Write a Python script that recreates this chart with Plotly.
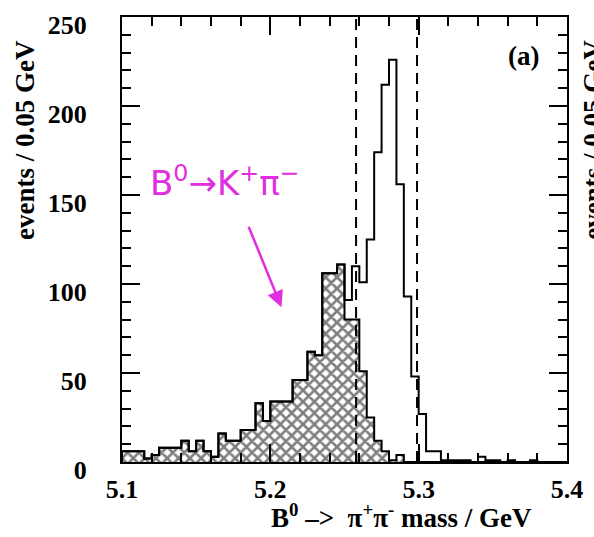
import plotly.graph_objects as go

# ---- data ----
bin_start = 5.1
bin_width = 0.005
# B0 -> K+ pi- (hatched) counts per bin, 5.100 ... 5.400
kpi_counts = [6, 6, 6, 2, 4, 8, 8, 8, 12, 6,
              12, 6, 3, 16, 12, 12, 18, 18, 33, 23,
              34, 34, 34, 46, 46, 62, 60, 106, 106, 111,
              80, 80, 51, 25, 12, 6, 1, 4, 0, 0,
              0, 0, 0, 0, 0, 0, 0, 0, 0, 0,
              0, 0, 0, 0, 0, 0, 0, 0, 0, 0]
# all candidates (open histogram)
all_counts = [6, 6, 6, 2, 4, 8, 8, 8, 12, 6,
              12, 6, 3, 16, 12, 12, 18, 18, 33, 23,
              34, 34, 34, 46, 46, 62, 60, 106, 106, 111,
              91, 110, 101, 125, 174, 212, 226, 156, 93, 48,
              27, 6, 6, 1, 1, 1, 1, 0, 3, 1,
              1, 0, 1, 0, 0, 1, 0, 0, 0, 0]
window_edges = [5.2578, 5.2989]
x_ticks = [5.1, 5.2, 5.3, 5.4]
y_ticks = [0, 50, 100, 150, 200, 250]

n = len(all_counts)
edges = [bin_start + bin_width * i for i in range(n + 1)]
centers = [bin_start + bin_width * (i + 0.5) for i in range(n)]

serif = "Liberation Serif"
fig = go.Figure()

fig.add_trace(go.Bar(
    x=centers, y=kpi_counts, width=bin_width,
    marker=dict(color="white", line=dict(width=0),
                pattern=dict(shape="x", fgcolor="black", bgcolor="white",
                             size=8, solidity=0.55)),
    showlegend=False, hoverinfo="skip"))

fig.add_trace(go.Scatter(
    x=[edges[0]] + edges, y=[0] + kpi_counts + [kpi_counts[-1]],
    mode="lines", line=dict(color="black", width=2, shape="hv"),
    showlegend=False, hoverinfo="skip"))

fig.add_trace(go.Scatter(
    x=[edges[0]] + edges, y=[0] + all_counts + [all_counts[-1]],
    mode="lines", line=dict(color="black", width=2, shape="hv"),
    showlegend=False, hoverinfo="skip"))

for xv in window_edges:
    fig.add_shape(type="line", x0=xv, x1=xv, y0=0, y1=1, xref="x", yref="paper",
                  line=dict(color="black", width=2, dash="11px,7px"))

axis_common = dict(showline=True, linecolor="black", linewidth=2, mirror="ticks",
                   ticks="inside", tickcolor="black", tickwidth=2, ticklen=18,
                   showgrid=False, zeroline=False,
                   tickfont=dict(family=serif, size=26, color="black", weight="bold"))

fig.update_xaxes(range=[5.1, 5.4], tickvals=x_ticks,
                 ticktext=[f"{v:.1f}" for v in x_ticks],
                 minor=dict(dtick=0.02, tick0=5.1, ticks="inside", ticklen=9,
                            tickwidth=2, tickcolor="black", showgrid=False),
                 ticklabelstandoff=3, **axis_common)
fig.update_yaxes(range=[0, 250], tickvals=y_ticks,
                 minor=dict(dtick=10, tick0=0, ticks="inside", ticklen=9,
                            tickwidth=2, tickcolor="black", showgrid=False),
                 ticklabelstandoff=28, ticklabelshift=8, **axis_common)

title_font = dict(family=serif, size=27, color="black", weight="bold")
fig.add_annotation(text="events / 0.05 GeV", xref="paper", yref="paper",
                   x=-0.218, y=0.7236, xanchor="center", yanchor="middle",
                   textangle=-90, showarrow=False, font=title_font)
fig.add_annotation(text="events / 0.05 GeV", xref="paper", yref="paper",
                   x=1.058, y=0.7236, xanchor="center", yanchor="middle",
                   textangle=-90, showarrow=False, font=title_font)
fig.add_annotation(text="B<sup>0</sup> \u2013>  \u03c0<sup>+</sup>\u03c0<sup>-</sup> mass / GeV",
                   xref="paper", yref="paper", x=0.629, y=-0.121,
                   xanchor="center", yanchor="middle", showarrow=False,
                   font=title_font)
fig.add_annotation(text="(a)", xref="paper", yref="paper", x=0.903, y=0.912,
                   xanchor="center", yanchor="middle", showarrow=False,
                   font=title_font)

fig.add_annotation(text="B<sup>0</sup>\u2192K<sup>+</sup>\u03c0<sup>\u2212</sup>",
                   xref="x", yref="y", x=5.1695, y=158, showarrow=False,
                   font=dict(family="DejaVu Sans", size=34, color="#e02ee0"))
fig.add_annotation(x=5.2075, y=87, ax=5.185, ay=133, xref="x", yref="y",
                   axref="x", ayref="y", showarrow=True, text="",
                   arrowhead=2, arrowsize=1.3, arrowwidth=2.5, arrowcolor="#e02ee0")

fig.update_layout(width=594, height=537,
                  margin=dict(l=122, r=27, t=17, b=75),
                  plot_bgcolor="white", paper_bgcolor="white",
                  bargap=0, showlegend=False)

fig.write_html("out.html")
